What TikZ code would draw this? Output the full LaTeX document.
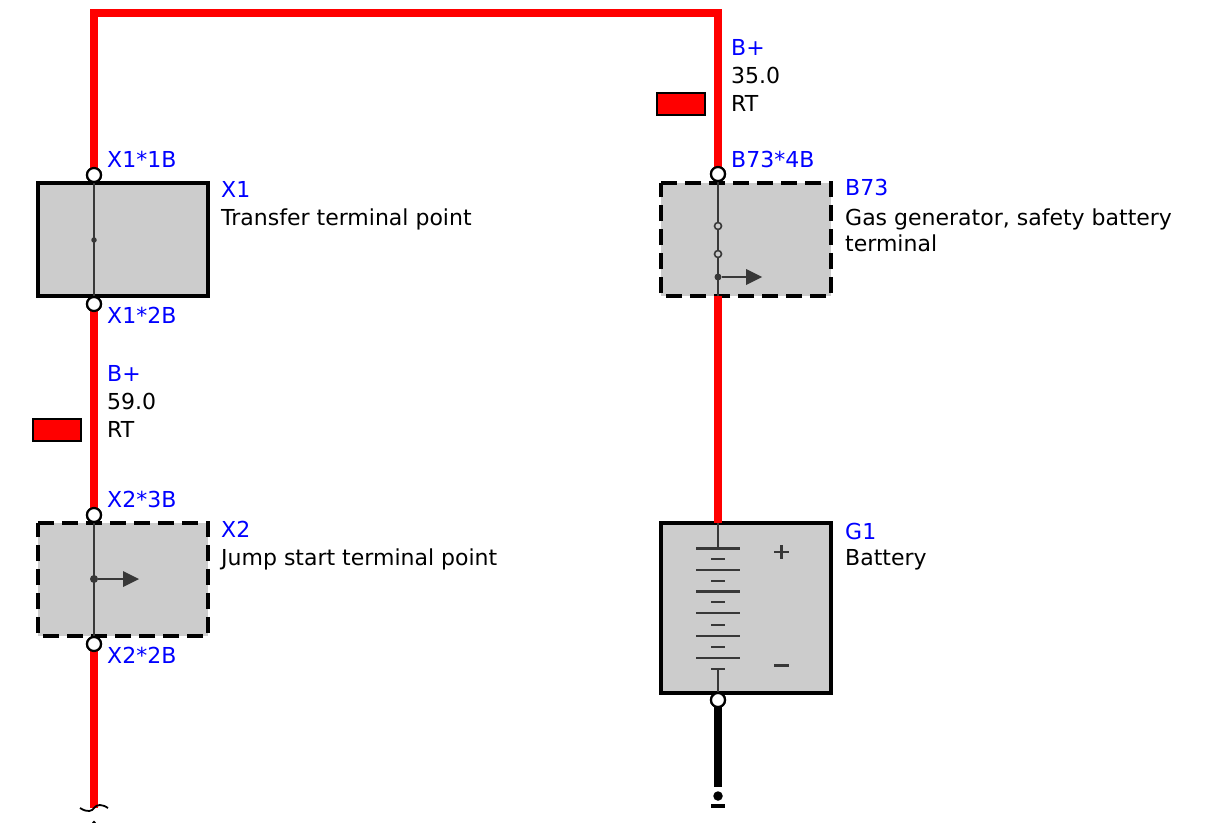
\documentclass[tikz,border=0pt]{standalone}
\usepackage{fontspec}
\setmainfont{DejaVu Sans}
\usetikzlibrary{positioning}
\begin{document}
\begin{tikzpicture}[
      x=1pt,y=-1pt,
      font=\fontsize{22}{26}\selectfont,
      solidbox/.style ={draw=black,line width=4.4pt,fill=black!20,minimum width=170pt,inner sep=0pt,outer sep=0pt},
      dashbox/.style  ={fill=black!20,minimum width=170pt,inner sep=0pt,outer sep=0pt},
      dashedge/.style ={draw=black,line width=4.4pt,dash pattern=on 16pt off 8pt},
      pin/.style      ={circle,draw=black,line width=2.2pt,fill=white,minimum size=14pt,inner sep=0pt},
      redwire/.style  ={draw=red,line width=8.2pt},
      blackwire/.style={draw=black,line width=8.2pt},
      inner/.style    ={draw=black!78,line width=2.4pt},
      sign/.style     ={draw=black!78,line width=2.1pt},
      swatch/.style   ={draw=black,line width=2pt,fill=red,minimum width=48pt,minimum height=22pt,inner sep=0pt},
      bluetxt/.style  ={anchor=base west,inner sep=0pt,text=blue},
      blacktxt/.style ={anchor=base west,inner sep=0pt,text=black},
      dotnode/.style  ={circle,fill=black!78,inner sep=0pt,minimum size=#1},
      ringnode/.style ={circle,draw=black!78,line width=1.6pt,fill=black!20,inner sep=0pt,minimum size=7pt}]
      \useasboundingbox (0,0) rectangle (1214,822);
      % Corners of the top run
      \coordinate (TopL) at (94,13);
      \coordinate (TopR) at (718,13);
      \coordinate (SqMid) at (94,808);

      % Pins
      \node[pin] (X1a) at (94,175) {};
      \node[pin] (X1b) at (94,304) {};
      \node[pin] (X2a) at (94,515) {};
      \node[pin] (X2b) at (94,644) {};
      \node[pin] (B73a) at (718,174) {};
      \node[pin] (G1b) at (718,700) {};

      % Boxes
      \node[solidbox,minimum height=113pt] (X1) at (123,239.5) {};
      \node[dashbox,minimum height=113pt] (X2) at (123,579.5) {};
      \node[dashbox,minimum height=113pt] (B73) at (746,239.5) {};
      \node[solidbox,minimum height=170pt] (G1) at (746,608) {};
      \foreach \b in {X2,B73}{\draw[dashedge] (\b.north west) -- (\b.north east) -- (\b.south east) -- (\b.south west) -- cycle;}
      \coordinate (B73out) at (718,296);
      \coordinate (G1in) at (718,523);
      \coordinate (G1top) at (718,548);
      \coordinate (G1bot) at (718,668.5);

      % Wires
      \draw[redwire] (X1a.center) -- (TopL) -- (TopR) -- (B73a.center);
      \draw[redwire] (X1b.center) -- (X2a.center);
      \draw[redwire] (X2b.center) -- (SqMid);
      \draw[redwire] (B73out) -- (G1in);
      \coordinate (BlkEnd) at (718,787);
      \draw[blackwire] (G1b.center) -- (BlkEnd);

      % Inner lines
      \draw[inner] (X1a) -- (X1b);
      \draw[inner] (X2a) -- (X2b);
      \draw[inner] (B73a) -- (B73out);
      \draw[inner] (G1in) -- (G1top);
      \draw[inner] (G1bot) -- (G1b);

      % Redraw pins on top
      \foreach \p in {X1a,X1b,X2a,X2b,B73a,G1b}{\node[pin] at (\p) {};}

      % Inner symbols
      \node[dotnode=5.5pt] (X1dot) at (94,240) {};
      \node[dotnode=8pt] (X2dot) at (94,579) {};
      \node[ringnode] (B73r1) at (718,226) {};
      \node[ringnode] (B73r2) at (718,254) {};
      \node[dotnode=7pt] (B73dot) at (718,277) {};
      \coordinate (X2head) at (124,579);
      \coordinate (B73head) at (747,277);
      \draw[inner] (X2dot) -- (X2head);
      \draw[inner] (B73dot) -- (B73head);
      \fill[black!78] (X2head) ++(-1,-8) -- ++(16,8) -- ++(-16,8) -- cycle;
      \fill[black!78] (B73head) ++(-1,-8) -- ++(16,8) -- ++(-16,8) -- cycle;

      % Battery plates
      \foreach \y in {548.3,570,591.3,613,635.7,657.7}{\draw[inner] (696,\y) -- (740,\y);}
      \foreach \y in {559,580.7,602,624.7,646.7,668.7}{\draw[inner] (711,\y) -- (725,\y);}
      \draw[sign] (774,552) -- (789,552);
      \draw[sign] (781.5,545) -- (781.5,559);
      \draw[sign] (774,665.5) -- (789,665.5);

      % Ground end
      \node[circle,fill=black,inner sep=0pt,minimum size=9.5pt] (GndDot) at (718,796) {};
      \node[fill=black,inner sep=0pt,minimum width=14pt,minimum height=4pt] (GndBar) at (718,806) {};

      % Squiggle at the cut wire
      \draw[black,line width=1.8pt] (80,808) .. controls (88,813) and (92,811) .. (94,808) .. controls (97,804) and (102,804) .. (108,808);
      \fill[black] (94,822.5) circle (1.8);

      % Swatches
      \node[swatch] (SwL) at (57,430) {};
      \node[swatch] (SwR) at (681,104) {};

      % Texts
      \node[bluetxt] (tX11) at (107,167.5) {X1*1B};
      \node[bluetxt] (tX12) at (107,323) {X1*2B};
      \node[bluetxt] (tBpL) at (107,381) {B+};
      \node[blacktxt] (tCsL) at (107,409) {59.0};
      \node[blacktxt] (tRtL) at (107,437) {RT};
      \node[bluetxt] (tX23) at (107,507) {X2*3B};
      \node[bluetxt] (tX22) at (107,663) {X2*2B};
      \node[bluetxt] (tX1) at (221,197) {X1};
      \node[blacktxt] (dX1) at (221,225) {Transfer terminal point};
      \node[bluetxt] (tX2) at (221,537) {X2};
      \node[blacktxt] (dX2) at (221,565) {Jump start terminal point};
      \node[bluetxt] (tBpR) at (731,55) {B+};
      \node[blacktxt] (tCsR) at (731,83) {35.0};
      \node[blacktxt] (tRtR) at (731,111) {RT};
      \node[bluetxt] (tB734) at (731,167.5) {B73*4B};
      \node[bluetxt] (tB73) at (845,195.5) {B73};
      \node[blacktxt] (dB73a) at (845,225) {Gas generator, safety battery};
      \node[blacktxt] (dB73b) at (845,251) {terminal};
      \node[bluetxt] (tG1) at (845,539) {G1};
      \node[blacktxt] (dG1) at (845,565) {Battery};
  \end{tikzpicture}
\end{document}
